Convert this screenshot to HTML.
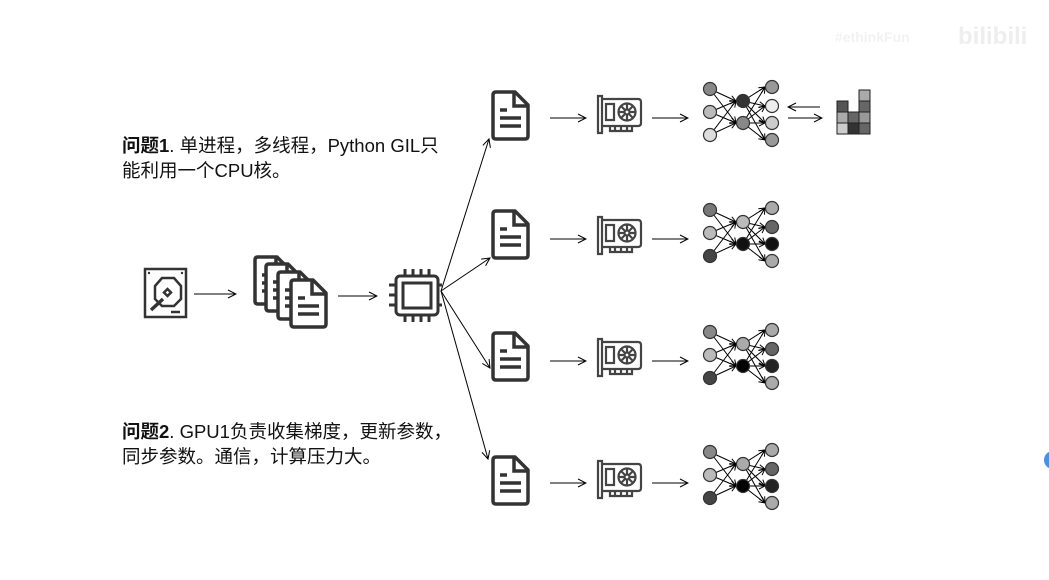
<!DOCTYPE html>
<html><head><meta charset="utf-8"><style>
body{margin:0;background:#fff;}
svg{display:block}
text{font-family:"Liberation Sans","Noto Sans CJK SC",sans-serif;}
</style></head><body>
<svg width="1049" height="580" viewBox="0 0 1049 580" xmlns="http://www.w3.org/2000/svg">
<defs>
<marker id="ah" markerWidth="10" markerHeight="10" refX="9" refY="5" orient="auto" markerUnits="userSpaceOnUse">
<path d="M1,1 L9,5 L1,9" fill="none" stroke="#000" stroke-width="1"/>
</marker>
<marker id="ah2" markerWidth="8" markerHeight="8" refX="7" refY="4" orient="auto" markerUnits="userSpaceOnUse">
<path d="M1,1 L7,4 L1,7" fill="none" stroke="#000" stroke-width="1"/>
</marker>
<g id="doc">
<path d="M3,0 H22 L35,13 V44 Q35,47 32,47 H3 Q0,47 0,44 V3 Q0,0 3,0 Z" fill="#fff" stroke="#333" stroke-width="3.5" stroke-linejoin="round"/>
<path d="M21,1 V14 H34" fill="none" stroke="#333" stroke-width="3.5"/>
<path d="M7,18 H14 M7,26 H28 M7,34 H28" stroke="#333" stroke-width="3.5"/>
</g>
<g id="gpu" fill="none" stroke="#444" stroke-width="2.2">
<path d="M1,1 H5 V38 H1 Z"/>
<path d="M5,4 H41 Q44,4 44,7 V28 Q44,31 41,31 H5"/>
<rect x="9" y="9" width="8" height="16"/>
<circle cx="30" cy="17" r="8.5"/>
<circle cx="30" cy="17" r="2.5"/>
<path d="M30,9 V14.5 M30,19.5 V25 M22,17 H27.5 M32.5,17 H38 M24,11 L28,15 M32,19 L36,23 M36,11 L32,15 M28,19 L24,23"/>
<path d="M13,31 V36 H35 V31 M18,31 V36 M24,31 V36 M30,31 V36"/>
</g>
<g id="edges" stroke="#000" stroke-width="1">
<line x1="710" y1="-23" x2="736" y2="-11" marker-end="url(#ah2)"/>
<line x1="710" y1="-23" x2="736" y2="11" marker-end="url(#ah2)"/>
<line x1="710" y1="0" x2="736" y2="-11" marker-end="url(#ah2)"/>
<line x1="710" y1="0" x2="736" y2="11" marker-end="url(#ah2)"/>
<line x1="710" y1="23" x2="736" y2="-11" marker-end="url(#ah2)"/>
<line x1="710" y1="23" x2="736" y2="11" marker-end="url(#ah2)"/>
<line x1="743" y1="-11" x2="765" y2="-25" marker-end="url(#ah2)"/>
<line x1="743" y1="-11" x2="765" y2="-6" marker-end="url(#ah2)"/>
<line x1="743" y1="-11" x2="765" y2="11" marker-end="url(#ah2)"/>
<line x1="743" y1="-11" x2="765" y2="28" marker-end="url(#ah2)"/>
<line x1="743" y1="11" x2="765" y2="-25" marker-end="url(#ah2)"/>
<line x1="743" y1="11" x2="765" y2="-6" marker-end="url(#ah2)"/>
<line x1="743" y1="11" x2="765" y2="11" marker-end="url(#ah2)"/>
<line x1="743" y1="11" x2="765" y2="28" marker-end="url(#ah2)"/>
</g>
</defs>

<text x="835" y="42" font-size="14" fill="#f2f2f2" font-weight="bold">#ethinkFun</text>
<text x="958" y="44" font-size="24" fill="#eeeeee" font-weight="bold">bilibili</text>
<circle cx="1053" cy="460" r="9" fill="#4a90e2"/>

<text x="122" y="152" font-size="18.5" fill="#111"><tspan font-weight="bold">问题1</tspan>. 单进程，多线程，Python GIL只</text>
<text x="122" y="177" font-size="18.5" fill="#111">能利用一个CPU核。</text>
<text x="122" y="438" font-size="18.5" fill="#111"><tspan font-weight="bold">问题2</tspan>. GPU1负责收集梯度，更新参数，</text>
<text x="122" y="463" font-size="18.5" fill="#111">同步参数。通信，计算压力大。</text>

<g fill="none" stroke="#333" stroke-width="2.5">
<rect x="145" y="269" width="41" height="48"/>
<path d="M155,286 L162,278 H174 L181,286 V299 L174,306 H162 L155,299 Z"/>
<rect x="165" y="290" width="5" height="5" transform="rotate(45 167.5 292.5)"/>
<path d="M163,299 L151,310" stroke-width="3.5"/>
<path d="M171,312 H180"/>
</g>
<circle cx="149" cy="273" r="1.2" fill="#333"/><circle cx="182" cy="273" r="1.2" fill="#333"/>
<line x1="194" y1="294" x2="236" y2="294" stroke="#000" marker-end="url(#ah)"/>

<use href="#doc" x="255" y="257"/>
<use href="#doc" x="266" y="264"/>
<use href="#doc" x="278" y="272"/>
<use href="#doc" x="291" y="280"/>
<line x1="338" y1="296" x2="377" y2="296" stroke="#000" marker-end="url(#ah)"/>

<g fill="none" stroke="#333" stroke-width="3">
<rect x="396" y="276" width="42" height="39" rx="4"/>
<rect x="403" y="283" width="28" height="25"/>
<path d="M405,269 V276 M413,269 V276 M421,269 V276 M429,269 V276 M405,315 V322 M413,315 V322 M421,315 V322 M429,315 V322 M389,285 H396 M389,295 H396 M389,305 H396 M438,285 H442 M438,305 H442"/>
</g>
<g stroke="#000" fill="none">
<line x1="441" y1="291" x2="489" y2="139" marker-end="url(#ah)"/>
<line x1="441" y1="291" x2="490" y2="258" marker-end="url(#ah)"/>
<line x1="441" y1="291" x2="490" y2="368" marker-end="url(#ah)"/>
<line x1="441" y1="291" x2="488" y2="459" marker-end="url(#ah)"/>
</g>

<use href="#doc" x="493" y="92"/>
<use href="#doc" x="493" y="211"/>
<use href="#doc" x="493" y="333"/>
<use href="#doc" x="493" y="457"/>
<use href="#gpu" x="597" y="95"/>
<use href="#gpu" x="597" y="216"/>
<use href="#gpu" x="597" y="338"/>
<use href="#gpu" x="597" y="460"/>
<g stroke="#000">
<line x1="550" y1="118" x2="586" y2="118" marker-end="url(#ah)"/>
<line x1="652" y1="118" x2="688" y2="118" marker-end="url(#ah)"/>
<line x1="550" y1="239" x2="586" y2="239" marker-end="url(#ah)"/>
<line x1="652" y1="239" x2="688" y2="239" marker-end="url(#ah)"/>
<line x1="550" y1="361" x2="586" y2="361" marker-end="url(#ah)"/>
<line x1="652" y1="361" x2="688" y2="361" marker-end="url(#ah)"/>
<line x1="550" y1="483" x2="586" y2="483" marker-end="url(#ah)"/>
<line x1="652" y1="483" x2="688" y2="483" marker-end="url(#ah)"/>
<line x1="820" y1="107" x2="788" y2="107" marker-end="url(#ah)"/>
<line x1="788" y1="118" x2="822" y2="118" marker-end="url(#ah)"/>
</g>

<use href="#edges" x="0" y="112"/>
<use href="#edges" x="0" y="233"/>
<use href="#edges" x="0" y="355"/>
<use href="#edges" x="0" y="475"/>
<g stroke="#333" stroke-width="1.2">
<circle cx="710" cy="89" r="6.5" fill="#888"/>
<circle cx="710" cy="112" r="6.5" fill="#bbb"/>
<circle cx="710" cy="135" r="6.5" fill="#ddd"/>
<circle cx="743" cy="101" r="6.5" fill="#333"/>
<circle cx="743" cy="123" r="6.5" fill="#888"/>
<circle cx="772" cy="87" r="6.5" fill="#999"/>
<circle cx="772" cy="106" r="6.5" fill="#eee"/>
<circle cx="772" cy="123" r="6.5" fill="#ccc"/>
<circle cx="772" cy="140" r="6.5" fill="#999"/>

<circle cx="710" cy="210" r="6.5" fill="#777"/>
<circle cx="710" cy="233" r="6.5" fill="#bbb"/>
<circle cx="710" cy="256" r="6.5" fill="#444"/>
<circle cx="743" cy="222" r="6.5" fill="#bbb"/>
<circle cx="743" cy="244" r="6.5" fill="#111"/>
<circle cx="772" cy="208" r="6.5" fill="#aaa"/>
<circle cx="772" cy="227" r="6.5" fill="#666"/>
<circle cx="772" cy="244" r="6.5" fill="#111"/>
<circle cx="772" cy="261" r="6.5" fill="#aaa"/>

<circle cx="710" cy="332" r="6.5" fill="#888"/>
<circle cx="710" cy="355" r="6.5" fill="#bbb"/>
<circle cx="710" cy="378" r="6.5" fill="#444"/>
<circle cx="743" cy="344" r="6.5" fill="#aaa"/>
<circle cx="743" cy="366" r="6.5" fill="#000"/>
<circle cx="772" cy="330" r="6.5" fill="#aaa"/>
<circle cx="772" cy="349" r="6.5" fill="#666"/>
<circle cx="772" cy="366" r="6.5" fill="#222"/>
<circle cx="772" cy="383" r="6.5" fill="#aaa"/>

<circle cx="710" cy="452" r="6.5" fill="#888"/>
<circle cx="710" cy="475" r="6.5" fill="#bbb"/>
<circle cx="710" cy="498" r="6.5" fill="#444"/>
<circle cx="743" cy="464" r="6.5" fill="#aaa"/>
<circle cx="743" cy="486" r="6.5" fill="#000"/>
<circle cx="772" cy="450" r="6.5" fill="#aaa"/>
<circle cx="772" cy="469" r="6.5" fill="#666"/>
<circle cx="772" cy="486" r="6.5" fill="#222"/>
<circle cx="772" cy="503" r="6.5" fill="#aaa"/>
</g>

<g stroke="#222" stroke-width="1">
<rect x="859" y="90" width="11" height="11" fill="#aaa"/>
<rect x="837" y="101" width="11" height="11" fill="#555"/>
<rect x="859" y="101" width="11" height="11" fill="#666"/>
<rect x="837" y="112" width="11" height="11" fill="#aaa"/>
<rect x="848" y="112" width="11" height="11" fill="#666"/>
<rect x="859" y="112" width="11" height="11" fill="#999"/>
<rect x="837" y="123" width="11" height="11" fill="#ccc"/>
<rect x="848" y="123" width="11" height="11" fill="#333"/>
<rect x="859" y="123" width="11" height="11" fill="#666"/>
</g>
</svg>
</body></html>
